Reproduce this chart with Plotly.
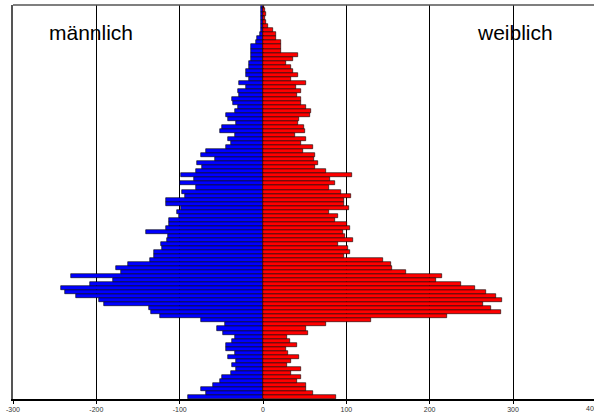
import plotly.graph_objects as go

ages = list(range(0, 98))

maennlich = [90, 69, 75, 60, 52, 49, 39, 33, 37, 32,
             42, 34, 44, 44, 37, 34, 48, 55, 46, 74,
             124, 134, 137, 191, 197, 225, 238, 242, 208, 180,
             231, 170, 176, 162, 136, 131, 131, 121, 122, 115,
             114, 141, 116, 113, 113, 101, 103, 99, 116, 117,
             94, 97, 81, 100, 83, 98, 80, 73, 79, 58,
             74, 68, 44, 39, 42, 34, 52, 49, 32, 42,
             44, 34, 30, 36, 37, 29, 30, 21, 29, 17,
             20, 21, 17, 17, 15, 14, 15, 14, 8, 7,
             4, 2, 2, 2, 2, 2, 2, 2]

weiblich = [88, 60, 52, 52, 41, 46, 33, 46, 29, 34,
            43, 30, 27, 41, 32, 29, 54, 52, 76, 130,
            221, 285, 274, 264, 287, 280, 267, 254, 237, 208,
            215, 171, 155, 153, 144, 97, 104, 102, 90, 108,
            98, 96, 104, 101, 86, 90, 79, 103, 97, 97,
            105, 94, 79, 86, 80, 107, 76, 62, 66, 61,
            62, 48, 60, 46, 52, 38, 50, 49, 42, 43,
            56, 57, 52, 45, 45, 41, 46, 40, 51, 33,
            42, 36, 34, 27, 36, 42, 22, 21, 22, 15,
            15, 12, 6, 4, 2, 3, 2, 1]

tick_vals = [-300, -200, -100, 0, 100, 200, 300, 400]
tick_text = ["-300", "-200", "-100", "0", "100", "200", "300", "400"]

x_min, x_max = -300, 397.2

fig = go.Figure()
fig.add_trace(go.Bar(
    y=ages, x=[-v for v in maennlich], orientation="h",
    marker=dict(color="#0000FF", line=dict(color="black", width=0.6)),
    name="männlich", hoverinfo="x+y"))
fig.add_trace(go.Bar(
    y=ages, x=weiblich, orientation="h",
    marker=dict(color="#FF0000", line=dict(color="black", width=0.6)),
    name="weiblich", hoverinfo="x+y"))

fig.update_layout(
    width=594, height=417,
    margin=dict(l=13, r=0, t=5, b=18, autoexpand=False),
    paper_bgcolor="white", plot_bgcolor="white",
    barmode="overlay", bargap=0,
    showlegend=False,
    font=dict(family="Liberation Sans, Arial, sans-serif", color="black"),
    xaxis=dict(
        range=[x_min, x_max], tickvals=tick_vals[:-1], ticktext=tick_text[:-1],
        showgrid=True, gridcolor="black", gridwidth=1,
        zeroline=False, showline=True, linecolor="black", linewidth=1.5,
        ticks="outside", ticklen=3, tickcolor="black",
        tickfont=dict(size=7, color="#333333"), automargin=False,
    ),
    yaxis=dict(
        range=[-0.5, 97.3], showticklabels=False, showgrid=False,
        zeroline=False, showline=True, linecolor="#555555", linewidth=1.5,
        ticks="", automargin=False,
    ),
    annotations=[
        dict(text="männlich", xref="paper", yref="paper", x=0.058, y=0.93,
             xanchor="left", yanchor="middle", showarrow=False,
             font=dict(size=21, color="black")),
        dict(text="weiblich", xref="paper", yref="paper", x=0.795, y=0.93,
             xanchor="left", yanchor="middle", showarrow=False,
             font=dict(size=21, color="black")),
        dict(text=tick_text[-1], xref="paper", yref="paper",
             x=(tick_vals[-1] - x_min) / (x_max - x_min), y=0,
             xanchor="center", yanchor="top", yshift=-4, xshift=-4,
             showarrow=False, font=dict(size=7, color="#333333")),
    ],
    shapes=[
        dict(type="line", xref="paper", yref="paper", x0=0, x1=1, y0=1, y1=1,
             line=dict(color="#555555", width=1.5)),
    ],
)

fig.write_html(
    "out.html",
    config={"displayModeBar": False},
    post_script="document.body.style.margin='0px';document.body.style.overflow='hidden';",
)
